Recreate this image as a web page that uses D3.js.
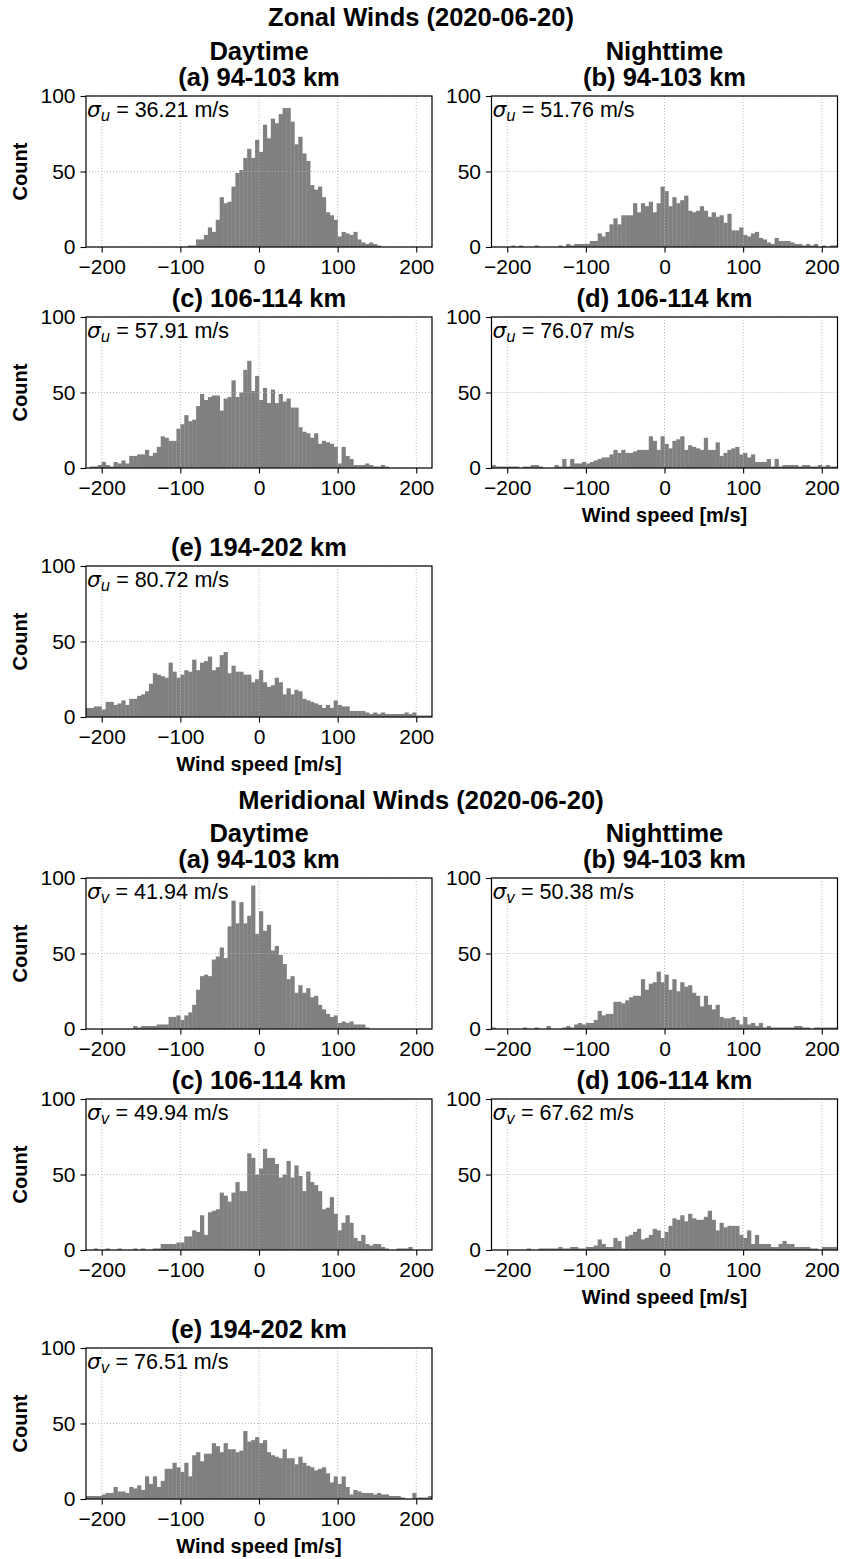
<!DOCTYPE html>
<html><head><meta charset="utf-8">
<script src="https://cdn.jsdelivr.net/npm/d3@7"></script>
<style>
body{margin:0;background:#fff}
text{font-family:"Liberation Sans",Arial,Helvetica,sans-serif}
</style>
</head><body>
<svg id="chart" width="842" height="1559"></svg>
<script>
// ---------------- DATA ----------------
const binStart = -220;
const binWidth = 5;
const xTickValues = [-200, -100, 0, 100, 200];
const yTickValues = [0, 50, 100];

// Zonal winds (2020-06-20), counts per 5 m/s bin from -220 to 220
const zonalDayA = [0,0,0,0,0,0,0,0,0,0, 0,0,0,0,0,0,0,0,0,0, 0,0,0,0,0,0,1,1,5,5,
  8,13,10,18,33,29,30,40,49,51, 59,65,59,71,63,81,72,85,82,88, 92,92,83,68,73,62,57,41,38,40,
  33,23,21,18,7,10,9,8,10,5, 3,2,3,2,1,0,0,0,0,0, 0,0,0,0,0,0,0,0];
const zonalNightB = [0,0,0,0,0,1,0,1,0,0, 0,1,0,0,0,0,0,1,0,2, 1,2,2,2,2,4,4,9,7,10,
  15,19,15,21,21,21,29,23,29,27, 30,23,29,40,37,27,33,29,31,34, 24,23,24,27,24,20,23,20,21,16,
  22,11,11,13,8,7,9,10,6,5, 3,2,6,4,4,4,3,2,2,1, 2,1,2,0,1,0,1,1];
const zonalDayC = [0,1,1,2,4,2,1,4,3,5, 3,8,8,9,9,12,8,10,14,21, 20,18,18,26,29,35,31,32,41,49,
  45,47,48,48,38,46,47,58,47,50, 65,71,51,61,45,53,43,52,43,49, 44,46,40,40,27,24,23,20,23,16,
  18,17,16,14,3,14,8,6,2,2, 2,3,2,1,1,2,1,0,0,0, 0,0,0,0,0,0,0,0];
const zonalNightD = [2,1,1,1,1,1,1,0,1,1, 2,2,1,0,0,0,2,1,6,1, 6,3,3,4,3,4,5,6,7,7,
  9,12,10,12,10,10,11,12,12,12, 21,18,12,21,16,13,18,19,21,12, 15,14,13,12,20,12,12,17,8,10,
  12,13,14,9,10,7,9,4,4,4, 6,1,6,1,2,2,2,2,1,2, 2,1,1,2,1,2,1,1];
const zonalDayE = [6,6,7,7,5,10,10,8,9,11, 8,12,12,14,15,17,22,29,28,27, 26,36,30,26,28,31,30,38,31,36,
  37,40,31,33,41,43,29,34,30,30, 28,28,23,25,31,23,20,21,26,23, 15,19,15,18,17,12,11,10,9,8,
  6,8,6,11,8,7,7,4,4,4, 4,3,2,3,2,3,2,2,2,2, 2,3,2,3,1,1,1,1];

// Meridional winds (2020-06-20)
const meridDayA = [0,0,0,0,0,0,0,0,0,0, 0,0,2,1,2,2,2,2,3,3, 3,8,8,9,6,9,11,16,26,35,
  36,35,46,48,54,47,68,85,70,84, 70,75,95,63,78,65,69,52,55,49, 43,33,35,24,29,24,27,21,22,16,
  13,10,8,9,4,5,4,5,3,3, 3,1,0,0,0,0,0,0,0,0, 0,0,0,0,0,0,0,0];
const meridNightB = [1,0,0,0,0,0,0,0,1,0, 0,1,0,0,2,0,0,0,1,2, 1,3,4,3,4,4,6,12,9,10,
  10,18,18,17,19,21,22,22,33,26, 30,31,38,31,36,26,33,25,31,28, 29,24,22,15,22,16,13,16,8,7,
  7,8,6,3,8,3,4,2,4,1, 2,1,1,1,1,1,1,2,2,1, 1,0,1,1,1,1,1,1];
const meridDayC = [0,0,1,0,0,1,0,0,1,0, 0,0,1,0,1,0,0,1,1,4, 4,4,4,5,5,9,9,13,12,23,
  10,25,26,27,38,36,32,38,45,39, 39,64,61,50,54,67,61,61,57,48, 50,59,48,56,49,39,52,45,43,39,
  27,28,35,24,13,18,23,18,8,6, 10,4,3,4,4,2,1,0,0,1, 1,1,2,0,0,0,0,0];
const meridNightD = [0,0,0,0,0,0,0,0,0,1, 0,0,1,1,1,1,1,2,1,1, 2,2,1,1,2,2,3,7,4,2,
  2,8,6,1,9,10,12,14,7,8, 10,14,13,8,12,16,21,20,23,19, 24,21,20,20,22,26,20,13,18,15,
  16,16,16,10,8,13,4,10,4,4, 4,2,2,4,6,4,4,2,2,2, 2,1,1,0,2,2,2,2];
const meridDayE = [2,2,2,2,3,4,4,8,5,5, 4,8,7,9,6,15,10,15,8,12, 20,20,24,21,18,24,15,29,31,25,
  30,30,37,35,31,37,33,33,31,32, 45,38,39,41,37,39,31,29,28,27, 33,27,27,23,28,24,22,21,19,20,
  21,17,11,15,10,15,8,3,6,5, 4,4,4,3,4,3,3,2,2,2, 1,0,0,4,1,1,1,2];

const zonalSigmas = ["36.21", "51.76", "57.91", "76.07", "80.72"];
const meridSigmas = ["41.94", "50.38", "49.94", "67.62", "76.51"];
const panelTitles = [["Daytime", "(a) 94-103 km"], ["Nighttime", "(b) 94-103 km"],
  ["(c) 106-114 km"], ["(d) 106-114 km"], ["(e) 194-202 km"]];
const figTitles = ["Zonal Winds (2020-06-20)", "Meridional Winds (2020-06-20)"];
const xLabel = "Wind speed [m/s]";
const yLabel = "Count";

// ---------------- LAYOUT ----------------
const svg = d3.select("#chart");
svg.append("rect").attr("width", 842).attr("height", 1559).attr("fill", "#fff");

const colRanges = [[86, 432], [491.5, 837.5]];
const panelH = 151;
const figures = [
  {title: figTitles[0], titleY: 26, tops: [96, 317, 566], data: [zonalDayA, zonalNightB, zonalDayC, zonalNightD, zonalDayE], sig: zonalSigmas, sub: "u"},
  {title: figTitles[1], titleY: 809, tops: [878, 1099, 1348], data: [meridDayA, meridNightB, meridDayC, meridNightD, meridDayE], sig: meridSigmas, sub: "v"}
];
const panelPos = [[0,0],[1,0],[0,1],[1,1],[0,2]];
const withXLabel = [false, false, false, true, true];

const TICK_FS = 21, TITLE_FS = 25.5, SUPTITLE_FS = 25.5, LABEL_FS = 20, SIG_FS = 21.5;
let clipId = 0;

figures.forEach(fig => {
  svg.append("text").attr("x", 421).attr("y", fig.titleY)
    .attr("text-anchor", "middle").attr("font-weight", "bold").attr("font-size", SUPTITLE_FS)
    .text(fig.title);

  fig.data.forEach((vals, k) => {
    const [col, row] = panelPos[k];
    const [xa, xb] = colRanges[col];
    const top = fig.tops[row], bottom = top + panelH;
    const x = d3.scaleLinear().domain([-220, 220]).range([xa, xb]);
    const y = d3.scaleLinear().domain([0, 100]).range([bottom, top]);
    const g = svg.append("g");

    const cid = "clip" + (clipId++);
    g.append("clipPath").attr("id", cid).append("rect")
      .attr("x", xa).attr("y", top).attr("width", xb - xa).attr("height", panelH);

    // bars
    g.append("g").attr("clip-path", `url(#${cid})`)
      .selectAll("rect").data(vals).join("rect")
      .attr("x", (d, i) => x(binStart + i * binWidth))
      .attr("width", (d, i) => x(binStart + (i + 1) * binWidth) - x(binStart + i * binWidth) + 0.3)
      .attr("y", d => y(d))
      .attr("height", d => y(0) - y(d))
      .attr("fill", "#808080");

    // grid
    const grid = g.append("g").attr("stroke", "#b0b0b0").attr("stroke-width", 0.9)
      .attr("stroke-dasharray", "1,2");
    grid.selectAll("line.vx").data(xTickValues).join("line").attr("class", "vx")
      .attr("x1", d => x(d)).attr("x2", d => x(d)).attr("y1", top).attr("y2", bottom);
    grid.selectAll("line.hy").data(yTickValues).join("line").attr("class", "hy")
      .attr("y1", d => y(d)).attr("y2", d => y(d)).attr("x1", xa).attr("x2", xb);

    // axes
    const ax = g.append("g").attr("transform", `translate(0,${bottom})`)
      .call(d3.axisBottom(x).tickValues(xTickValues).tickSize(5.5).tickPadding(7).tickFormat(d3.format("d")));
    const ay = g.append("g").attr("transform", `translate(${xa},0)`)
      .call(d3.axisLeft(y).tickValues(yTickValues).tickSize(5.5).tickPadding(5).tickFormat(d3.format("d")));
    [ax, ay].forEach(a => {
      a.select(".domain").remove();
      a.attr("font-size", TICK_FS).attr("font-family", '"Liberation Sans",Arial,sans-serif');
      a.selectAll("line").attr("stroke", "#000").attr("stroke-width", 1.1);
      a.selectAll("text").attr("fill", "#000");
    });

    // frame
    g.append("rect").attr("x", xa).attr("y", top).attr("width", xb - xa).attr("height", panelH)
      .attr("fill", "none").attr("stroke", "#000").attr("stroke-width", 1.2);

    // titles
    const lines = panelTitles[k];
    lines.forEach((t, li) => {
      g.append("text").attr("x", (xa + xb) / 2)
        .attr("y", top - 10.5 - (lines.length - 1 - li) * 25.5)
        .attr("text-anchor", "middle").attr("font-weight", "bold").attr("font-size", TITLE_FS)
        .text(t);
    });

    // sigma annotation
    const st = g.append("text").attr("x", xa + 1).attr("y", top + 21).attr("font-size", SIG_FS);
    st.append("tspan").attr("font-style", "italic").attr("font-family", '"DejaVu Sans",sans-serif').attr("font-size", SIG_FS).text("σ");
    st.append("tspan").attr("font-style", "italic").attr("font-family", '"DejaVu Sans",sans-serif').attr("font-size", 15).attr("dy", 4).text(fig.sub);
    st.append("tspan").attr("dy", -4).text(" = " + fig.sig[k] + " m/s");

    // axis labels
    if (col === 0) {
      g.append("text").attr("transform", `translate(27,${(top + bottom) / 2}) rotate(-90)`)
        .attr("text-anchor", "middle").attr("font-weight", "bold").attr("font-size", LABEL_FS)
        .text(yLabel);
    }
    if (withXLabel[k]) {
      g.append("text").attr("x", (xa + xb) / 2).attr("y", bottom + 54)
        .attr("text-anchor", "middle").attr("font-weight", "bold").attr("font-size", LABEL_FS)
        .text(xLabel);
    }
  });
});
</script>
</body></html>
